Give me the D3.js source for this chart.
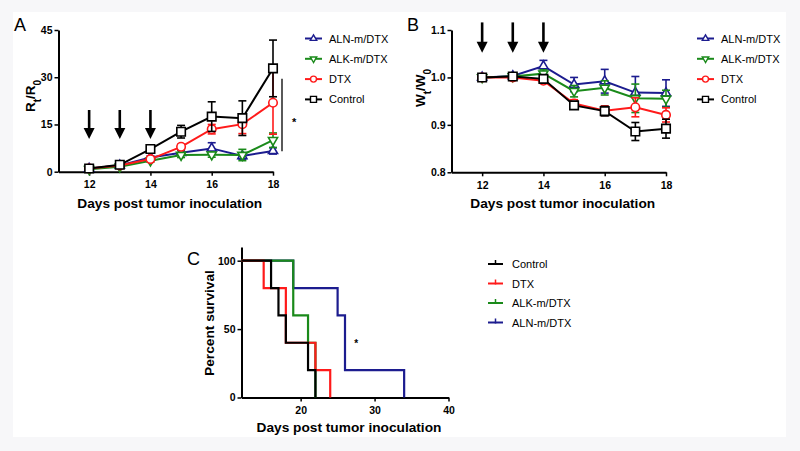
<!DOCTYPE html>
<html><head><meta charset="utf-8">
<script src="https://cdnjs.cloudflare.com/ajax/libs/d3/7.8.5/d3.min.js"></script>
<style>
html,body{margin:0;padding:0;background:#fff;}
text{font-family:"Liberation Sans",Arial,sans-serif;}
</style></head><body>
<svg id="chart" width="800" height="451"></svg>
<script>
// ---------- DATA ----------
const days = [12,13,14,15,16,17,18];
const seriesNames = ["ALN-m/DTX","ALK-m/DTX","DTX","Control"];
const seriesColors = ["#1c1c8f","#1a8a1a","#ff1a1a","#000000"];
const seriesSymbols = ["triUp","triDown","circle","square"];

// Panel A: tumor volume ratio Rt/R0
const tumorALN = [1.0,2.0,4.5,6.0,7.4,5.0,6.6];
const tumorALNErr = [0.3,0.3,0.5,0.8,1.8,1.0,1.0];
const tumorALK = [0.8,1.6,3.5,5.3,5.4,5.3,10.0];
const tumorALKErr = [0.3,0.3,0.5,0.8,0.8,1.8,2.3];
const tumorDTX = [1.0,2.0,4.0,7.9,13.5,15.1,21.9];
const tumorDTXErr = [0.3,0.3,0.5,0.8,1.5,3.0,10.0];
const tumorCtrl = [1.0,2.2,7.2,12.7,17.5,17.0,32.8];
const tumorCtrlErr = [0.3,0.5,0.8,2.0,4.7,5.5,9.0];

// Panel B: body weight ratio Wt/W0
const weightALN = [1.0,1.003,1.024,0.985,0.992,0.968,0.967];
const weightALNErr = [0.002,0.002,0.012,0.015,0.025,0.034,0.028];
const weightALK = [1.0,1.002,1.008,0.971,0.978,0.956,0.955];
const weightALKErr = [0.002,0.002,0.008,0.012,0.015,0.03,0.018];
const weightDTX = [1.0,1.0,0.993,0.945,0.93,0.937,0.921];
const weightDTXErr = [0.002,0.002,0.005,0.008,0.01,0.02,0.015];
const weightCtrl = [1.0,1.002,0.997,0.941,0.929,0.886,0.892];
const weightCtrlErr = [0.002,0.002,0.005,0.008,0.01,0.019,0.02];

// Dosing days (arrows)
const doseDays = [12,13,14];

// Panel C: survival (Kaplan-Meier steps)
const survNames = ["Control","DTX","ALK-m/DTX","ALN-m/DTX"];
const survColors = ["#000000","#ff1a1a","#1a8a1a","#1c1c8f"];
const survCtrlT = [12,16,17,18,21,22];
const survCtrlS = [100,80,60,40,20,0];
const survDTXT = [12,15,18,22,24];
const survDTXS = [100,80,40,20,0];
const survALKT = [12,19,21,22];
const survALKS = [100,60,40,0];
const survALNT = [12,19,25,26,34];
const survALNS = [100,80,60,20,0];

// Tick labels
const ticksAx = [12,14,16,18];
const ticksAy = [0,15,30,45];
const ticksBy = [0.8,0.9,1.0,1.1];
const ticksCx = [20,30,40];
const ticksCy = [0,50,100];

// ---------- DRAW ----------
const svg = d3.select("#chart");
svg.append("rect").attr("width",800).attr("height",451).attr("fill","#f7f7f9");
svg.append("rect").attr("x",13).attr("y",12).attr("width",773).attr("height",425).attr("fill","#fff");

const FONT = '"Liberation Sans",Arial,sans-serif';

function styleAxis(g){
  g.selectAll("path.domain").attr("stroke","#000").attr("stroke-width",2);
  g.selectAll(".tick line").attr("stroke","#000").attr("stroke-width",1.5);
  g.selectAll(".tick text").attr("font-family",FONT).attr("font-weight","bold")
    .attr("font-size","10.5px").attr("fill","#000");
}

function symbolPath(type, size){
  const s = size;
  if(type==="square") return d3.symbol(d3.symbolSquare, s*s)();
  if(type==="circle") return d3.symbol(d3.symbolCircle, Math.PI*(s/2)*(s/2))();
  if(type==="triUp") return d3.symbol(d3.symbolTriangle, s*s*0.5)();
  if(type==="triDown") return d3.symbol(d3.symbolTriangle, s*s*0.5)();
}

function drawLinePanel(opts){
  const {x, y, vals, errs, yTicks, yFmt, label, labelPos, ylabelParts, ylabelPos, arrowFrom, arrowTo, legendX, legendY} = opts;
  const g = svg.append("g");
  // axes
  const xAxis = d3.axisBottom(x).tickValues(ticksAx).tickFormat(d3.format("d")).tickSize(4).tickSizeOuter(0).tickPadding(5);
  const gx = g.append("g").attr("transform",`translate(0,${y.range()[0]})`).call(xAxis);
  styleAxis(gx);
  const yAxis = d3.axisLeft(y).tickValues(yTicks).tickFormat(yFmt).tickSize(4).tickSizeOuter(0).tickPadding(2);
  const gy = g.append("g").attr("transform",`translate(${x.range()[0]},0)`).call(yAxis);
  styleAxis(gy);

  // arrows
  doseDays.forEach(d=>{
    const ax = x(d), y1 = y(arrowFrom), y2 = y(arrowTo);
    g.append("line").attr("x1",ax).attr("x2",ax).attr("y1",y1).attr("y2",y2-9)
      .attr("stroke","#000").attr("stroke-width",2.6);
    g.append("path").attr("d",`M${ax-5.5},${y2-11}L${ax+5.5},${y2-11}L${ax},${y2}Z`).attr("fill","#000");
  });

  // series
  const line = d3.line().x((d,i)=>x(days[i])).y(d=>y(d));
  vals.forEach((v,si)=>{
    const col = seriesColors[si];
    const sg = g.append("g");
    v.forEach((val,i)=>{
      const e = errs[si][i];
      const cx = x(days[i]);
      sg.append("line").attr("x1",cx).attr("x2",cx).attr("y1",y(val+e)).attr("y2",y(val-e))
        .attr("stroke",col).attr("stroke-width",1.6);
      [val+e,val-e].forEach(ev=>{
        sg.append("line").attr("x1",cx-4).attr("x2",cx+4).attr("y1",y(ev)).attr("y2",y(ev))
          .attr("stroke",col).attr("stroke-width",1.6);
      });
    });
    sg.append("path").attr("d",line(v)).attr("fill","none").attr("stroke",col).attr("stroke-width",2);
    v.forEach((val,i)=>{
      const rot = seriesSymbols[si]==="triDown" ? 180 : 0;
      sg.append("path").attr("d",symbolPath(seriesSymbols[si],8.5))
        .attr("transform",`translate(${x(days[i])},${y(val)}) rotate(${rot})`)
        .attr("fill","#fff").attr("stroke",col).attr("stroke-width",1.6);
    });
  });

  g.append("text").attr("x",labelPos[0]).attr("y",labelPos[1]).text(label)
    .attr("font-family",FONT).attr("font-size","18px").attr("fill","#000");

  const xm = (x.range()[0]+x.range()[1])/2;
  g.append("text").attr("x",xm+4).attr("y",y.range()[0]+36).attr("text-anchor","middle")
    .attr("font-family",FONT).attr("font-weight","bold").attr("font-size","13.7px")
    .text("Days post tumor inoculation");

  const yl = g.append("text").attr("transform",`translate(${ylabelPos[0]},${ylabelPos[1]}) rotate(-90)`)
    .attr("text-anchor","middle").attr("font-family",FONT).attr("font-weight","bold").attr("font-size","13.5px");
  ylabelParts.forEach(p=>{
    const t = yl.append("tspan").text(p.t);
    if(p.sub) t.attr("baseline-shift","sub").attr("font-size","10px");
  });

  seriesNames.forEach((n,si)=>{
    const ly = legendY + si*20.3;
    const col = seriesColors[si];
    g.append("line").attr("x1",legendX).attr("x2",legendX+17).attr("y1",ly).attr("y2",ly)
      .attr("stroke",col).attr("stroke-width",2);
    const rot = seriesSymbols[si]==="triDown" ? 180 : 0;
    g.append("path").attr("d",symbolPath(seriesSymbols[si],6))
      .attr("transform",`translate(${legendX+8.5},${ly}) rotate(${rot})`)
      .attr("fill","#fff").attr("stroke",col).attr("stroke-width",1.4);
    g.append("text").attr("x",legendX+24).attr("y",ly+4).text(n)
      .attr("font-family",FONT).attr("font-size","11px").attr("fill","#000");
  });
  return g;
}

// Panel A
const xA = d3.scaleLinear().domain([11,18]).range([58.5,273]);
const yA = d3.scaleLinear().domain([0,45]).range([171.7,30]);
const gA = drawLinePanel({
  x:xA, y:yA,
  vals:[tumorALN,tumorALK,tumorDTX,tumorCtrl],
  errs:[tumorALNErr,tumorALKErr,tumorDTXErr,tumorCtrlErr],
  yTicks:ticksAy, yFmt:d3.format("d"),
  label:"A", labelPos:[14,31],
  ylabelParts:[{t:"R"},{t:"t",sub:true},{t:"/R"},{t:"0",sub:true}], ylabelPos:[35,96],
  arrowFrom:19.6, arrowTo:10.4,
  legendX:305, legendY:38.5
});
gA.append("line").attr("x1",282).attr("x2",282).attr("y1",yA(29.5)).attr("y2",yA(6.5))
  .attr("stroke","#000").attr("stroke-width",1.3);
gA.append("text").attr("x",292).attr("y",yA(16.5)+6).text("*").attr("font-family",FONT)
  .attr("font-size","11px").attr("font-weight","bold");

// Panel B
const xB = d3.scaleLinear().domain([11,18]).range([451.5,666]);
const yB = d3.scaleLinear().domain([0.8,1.1]).range([172.3,30]);
drawLinePanel({
  x:xB, y:yB,
  vals:[weightALN,weightALK,weightDTX,weightCtrl],
  errs:[weightALNErr,weightALKErr,weightDTXErr,weightCtrlErr],
  yTicks:ticksBy, yFmt:d3.format(".1f"),
  label:"B", labelPos:[407,31],
  ylabelParts:[{t:"W"},{t:"t",sub:true},{t:"/W"},{t:"0",sub:true}], ylabelPos:[425,88],
  arrowFrom:1.116, arrowTo:1.052,
  legendX:697, legendY:38.5
});

// Panel C
const xC = d3.scaleLinear().domain([12,40]).range([241.5,448.5]);
const yC = d3.scaleLinear().domain([0,110]).range([397.5,247]);
const gC = svg.append("g");
const gcx = gC.append("g").attr("transform",`translate(0,${yC(0)})`)
  .call(d3.axisBottom(xC).tickValues(ticksCx).tickFormat(d3.format("d")).tickSize(4).tickSizeOuter(0).tickPadding(5));
styleAxis(gcx);
const gcy = gC.append("g").attr("transform",`translate(${xC(12)},0)`)
  .call(d3.axisLeft(yC).tickValues(ticksCy).tickFormat(d3.format("d")).tickSize(4).tickSizeOuter(0).tickPadding(2));
styleAxis(gcy);

const survT = [survCtrlT,survDTXT,survALKT,survALNT];
const survS = [survCtrlS,survDTXS,survALKS,survALNS];
const step = d3.line().curve(d3.curveStepAfter).x(d=>xC(d[0])).y(d=>yC(d[1]));
[3,2,1,0].forEach(si=>{
  const pts = survT[si].map((t,i)=>[t,survS[si][i]]);
  gC.append("path").attr("d",step(pts)).attr("fill","none")
    .attr("stroke",survColors[si]).attr("stroke-width",2.2);
});
gC.append("text").attr("x",xC(27.5)).attr("y",yC(40)+4).text("*").attr("font-family",FONT)
  .attr("font-size","10px").attr("font-weight","bold").attr("text-anchor","middle");

gC.append("text").attr("x",187).attr("y",265).text("C")
  .attr("font-family",FONT).attr("font-size","18px");
gC.append("text").attr("x",349).attr("y",432).attr("text-anchor","middle")
  .attr("font-family",FONT).attr("font-weight","bold").attr("font-size","13.7px")
  .text("Days post tumor inoculation");
gC.append("text").attr("transform",`translate(214,323) rotate(-90)`).attr("text-anchor","middle")
  .attr("font-family",FONT).attr("font-weight","bold").attr("font-size","13.7px")
  .text("Percent survival");

survNames.forEach((n,i)=>{
  const ly = 264 + i*19.5;
  gC.append("line").attr("x1",488).attr("x2",503).attr("y1",ly).attr("y2",ly)
    .attr("stroke",survColors[i]).attr("stroke-width",2);
  gC.append("line").attr("x1",495.5).attr("x2",495.5).attr("y1",ly-4).attr("y2",ly+1)
    .attr("stroke",survColors[i]).attr("stroke-width",1.5);
  gC.append("text").attr("x",512).attr("y",ly+4).text(n)
    .attr("font-family",FONT).attr("font-size","11px");
});
</script>
</body></html>
